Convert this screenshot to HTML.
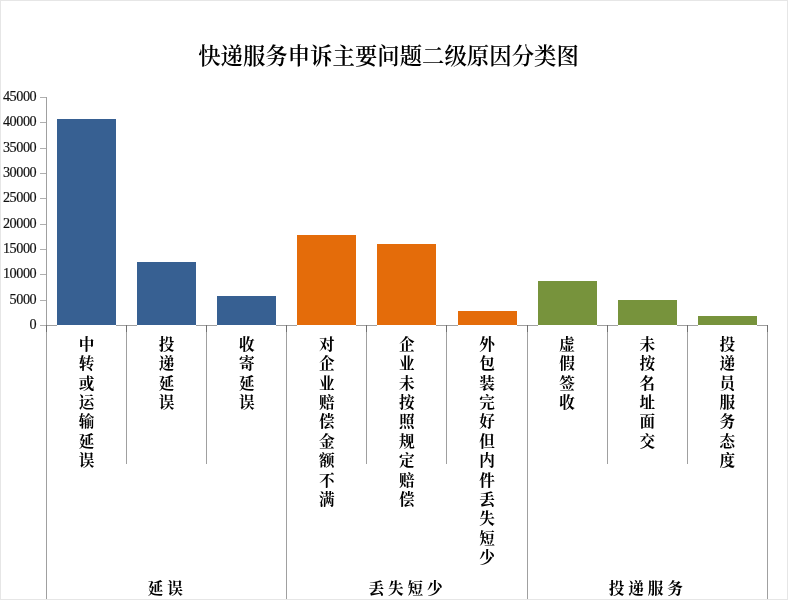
<!DOCTYPE html>
<html lang="zh-CN"><head><meta charset="utf-8"><title>快递服务申诉主要问题二级原因分类图</title>
<style>
html,body{margin:0;padding:0;background:#fff;}
#c{position:relative;width:788px;height:600px;overflow:hidden;background:#fff;box-sizing:border-box;
font-family:"Liberation Serif","Noto Serif CJK SC",serif;color:#000;}
#c:after{content:"";position:absolute;left:0;top:0;width:786px;height:598px;border:1px solid #e6e6e6;pointer-events:none;}
.t{position:absolute;left:0;width:777px;top:40px;text-align:center;font-size:22.4px;line-height:34px;white-space:nowrap;font-weight:600;}
.y{position:absolute;left:0;width:36.2px;text-align:right;font-size:14.2px;letter-spacing:-0.45px;line-height:16px;height:16px;color:#111;-webkit-text-stroke:0.18px #111;}
.tk{position:absolute;left:40px;width:7px;height:1px;background:#b0b0b0;}
.k{position:absolute;width:1px;top:325px;height:7px;background:#707070;z-index:2;}
.v{position:absolute;width:1px;background:#a0a0a0;}
.h{position:absolute;height:1px;background:#a0a0a0;}
.b{position:absolute;box-shadow:0 1px 0 #fff;z-index:1;}
.l{position:absolute;width:17px;font-size:15.6px;line-height:19.4px;text-align:center;word-break:break-all;top:334.8px;font-weight:700;}
.g{position:absolute;top:577.5px;height:22px;line-height:22px;font-size:15.6px;letter-spacing:3.9px;text-align:center;white-space:nowrap;font-weight:700;}
</style></head><body><div id="c">
<div class="t">快递服务申诉主要问题二级原因分类图</div>
<div class="y" style="top:88.1px">45000</div><div class="tk" style="top:97px"></div>
<div class="y" style="top:113.4px">40000</div><div class="tk" style="top:122px"></div>
<div class="y" style="top:138.8px">35000</div><div class="tk" style="top:148px"></div>
<div class="y" style="top:164.1px">30000</div><div class="tk" style="top:173px"></div>
<div class="y" style="top:189.4px">25000</div><div class="tk" style="top:198px"></div>
<div class="y" style="top:214.7px">20000</div><div class="tk" style="top:224px"></div>
<div class="y" style="top:240.1px">15000</div><div class="tk" style="top:249px"></div>
<div class="y" style="top:265.4px">10000</div><div class="tk" style="top:274px"></div>
<div class="y" style="top:290.7px">5000</div><div class="tk" style="top:300px"></div>
<div class="y" style="top:316.1px">0</div><div class="tk" style="top:325px"></div>
<div class="v" style="left:46px;top:97px;height:503px"></div>
<div class="h" style="left:46px;top:325px;width:722px"></div>
<div class="k" style="left:46px"></div>
<div class="k" style="left:126px"></div>
<div class="v" style="left:126px;top:325px;height:139px"></div>
<div class="k" style="left:206px"></div>
<div class="v" style="left:206px;top:325px;height:139px"></div>
<div class="k" style="left:286px"></div>
<div class="v" style="left:286px;top:325px;height:275px"></div>
<div class="k" style="left:366px"></div>
<div class="v" style="left:366px;top:325px;height:139px"></div>
<div class="k" style="left:446px"></div>
<div class="v" style="left:446px;top:325px;height:139px"></div>
<div class="k" style="left:527px"></div>
<div class="v" style="left:527px;top:325px;height:275px"></div>
<div class="k" style="left:607px"></div>
<div class="v" style="left:607px;top:325px;height:139px"></div>
<div class="k" style="left:687px"></div>
<div class="v" style="left:687px;top:325px;height:139px"></div>
<div class="k" style="left:767px"></div>
<div class="v" style="left:767px;top:325px;height:275px"></div>
<div class="b" style="left:57.0px;top:119px;width:59px;height:206px;background:#376092"></div>
<div class="l" style="left:78.0px">中转或运输延误</div>
<div class="b" style="left:137.1px;top:262px;width:59px;height:63px;background:#376092"></div>
<div class="l" style="left:158.1px">投递延误</div>
<div class="b" style="left:217.2px;top:296px;width:59px;height:29px;background:#376092"></div>
<div class="l" style="left:238.2px">收寄延误</div>
<div class="b" style="left:297.3px;top:235px;width:59px;height:90px;background:#e46c0a"></div>
<div class="l" style="left:318.3px">对企业赔偿金额不满</div>
<div class="b" style="left:377.4px;top:244px;width:59px;height:81px;background:#e46c0a"></div>
<div class="l" style="left:398.4px">企业未按照规定赔偿</div>
<div class="b" style="left:457.6px;top:311px;width:59px;height:14px;background:#e46c0a"></div>
<div class="l" style="left:478.6px">外包装完好但内件丢失短少</div>
<div class="b" style="left:537.6px;top:281px;width:59px;height:44px;background:#77933c"></div>
<div class="l" style="left:558.6px">虚假签收</div>
<div class="b" style="left:617.7px;top:300px;width:59px;height:25px;background:#77933c"></div>
<div class="l" style="left:638.7px">未按名址面交</div>
<div class="b" style="left:697.8px;top:316px;width:59px;height:9px;background:#77933c"></div>
<div class="l" style="left:718.8px">投递员服务态度</div>
<div class="g" style="left:46.5px;width:240.3px;text-indent:1px">延误</div>
<div class="g" style="left:286.8px;width:240.3px;text-indent:1px">丢失短少</div>
<div class="g" style="left:527.1px;width:240.3px;text-indent:1px">投递服务</div>
</div></body></html>
